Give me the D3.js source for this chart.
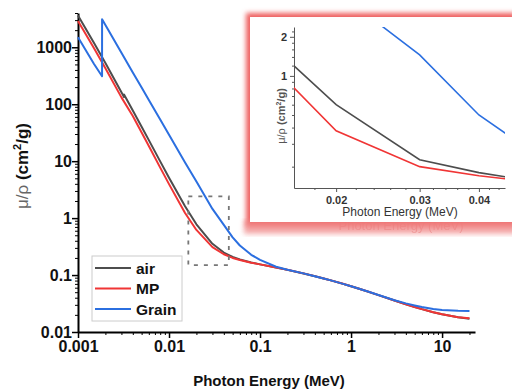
<!DOCTYPE html>
<html>
<head>
<meta charset="utf-8">
<script src="https://cdn.jsdelivr.net/npm/d3@7"></script>
<style>
  body { margin: 0; background: #fff; }
  svg { font-family: Arial, "Liberation Sans", sans-serif; }
</style>
</head>
<body>
<svg id="chart" width="512" height="390"></svg>
<script>
// mass attenuation coefficients (cm2/g) vs photon energy (MeV)
const airEnergy = [0.001, 0.0015, 0.002, 0.003, 0.0032028, 0.0032029, 0.004, 0.005, 0.006, 0.008, 0.01, 0.015, 0.02, 0.03, 0.04, 0.05, 0.06, 0.08, 0.1, 0.15, 0.2, 0.3, 0.4, 0.5, 0.6, 0.8, 1, 1.25, 1.5, 2, 3, 4, 5, 6, 8, 10, 15, 20];
const airValues = [3606, 1191, 527.9, 162.5, 134.0, 148.5, 77.88, 40.27, 23.41, 9.921, 5.12, 1.614, 0.7779, 0.3538, 0.2485, 0.208, 0.1875, 0.1662, 0.1541, 0.1356, 0.1233, 0.1067, 0.09549, 0.08712, 0.08055, 0.07074, 0.06358, 0.05687, 0.05175, 0.04447, 0.03581, 0.03079, 0.02751, 0.02522, 0.02225, 0.02045, 0.0181, 0.01705];

const mpEnergy = [0.001, 0.0015, 0.002, 0.003, 0.004, 0.005, 0.006, 0.008, 0.01, 0.015, 0.02, 0.03, 0.04, 0.05, 0.06, 0.08, 0.1, 0.15, 0.2, 0.3, 0.4, 0.5, 0.6, 0.8, 1, 1.25, 1.5, 2, 3, 4, 5, 6, 8, 10, 15, 20];
const mpValues = [2900, 960, 430, 132, 62, 32, 18.5, 7.7, 3.95, 1.23, 0.62, 0.31, 0.232, 0.2, 0.184, 0.165, 0.154, 0.1358, 0.1236, 0.107, 0.0957, 0.0873, 0.0807, 0.0709, 0.0637, 0.0569, 0.0518, 0.0445, 0.0358, 0.0308, 0.0275, 0.0252, 0.0222, 0.0205, 0.0182, 0.0174];

const grainEnergy = [0.001, 0.0015, 0.001838, 0.001839, 0.002, 0.003, 0.004, 0.005, 0.006, 0.008, 0.01, 0.015, 0.02, 0.03, 0.04, 0.05, 0.06, 0.08, 0.1, 0.15, 0.2, 0.3, 0.4, 0.5, 0.6, 0.8, 1, 1.25, 1.5, 2, 3, 4, 5, 6, 8, 10, 15, 20];
const grainValues = [1500, 510, 310, 3100, 2460, 800, 360, 196, 119, 54, 29, 9.5, 4.4, 1.45, 0.76, 0.46, 0.33, 0.227, 0.185, 0.14, 0.124, 0.107, 0.0955, 0.0871, 0.0806, 0.0708, 0.0636, 0.0569, 0.0518, 0.0446, 0.0362, 0.0318, 0.0292, 0.0274, 0.0253, 0.0243, 0.0235, 0.0233];

// zoomed inset
const insetEnergy = [0.015, 0.02, 0.03, 0.04, 0.05];
const insetAir = [1.58, 0.60, 0.226, 0.18, 0.158];
const insetMP = [1.10, 0.378, 0.20, 0.17, 0.155];
const insetGrain = [9.9, 4.5, 1.45, 0.50, 0.285];

const xTickValues = [0.001, 0.01, 0.1, 1, 10];
const yTickValues = [0.01, 0.1, 1, 10, 100, 1000];
const xTickLabels = ['0.001', '0.01', '0.1', '1', '10'];
const yTickLabels = ['0.01', '0.1', '1', '10', '100', '1000'];
const insetXTicks = [0.02, 0.03, 0.04];
const insetYTicks = [1, 2];

const seriesNames = ['air', 'MP', 'Grain'];
const colors = { air: '#4d4d4d', MP: '#f03535', Grain: '#2b6fe0' };

const svg = d3.select('#chart');

const x = d3.scaleLog().domain([0.001, 23]).range([78, 475]);
const y = d3.scaleLog().domain([0.01, 4000]).range([332, 13]);

function minorTicks(lo, hi) {
  var out = [];
  for (var d = lo; d < hi; d *= 10)
    for (var k = 2; k <= 9; k++) out.push(+(d * k).toPrecision(3));
  return out;
}

// minor ticks
svg.append('g')
  .attr('transform', 'translate(0,332)')
  .call(d3.axisBottom(x).tickValues(minorTicks(0.001, 10).concat([20])).tickSize(3).tickFormat(''))
  .call(g => g.select('.domain').remove())
  .selectAll('line').attr('stroke', '#000').attr('stroke-width', 1);
svg.append('g')
  .attr('transform', 'translate(78,0)')
  .call(d3.axisLeft(y).tickValues(minorTicks(0.01, 1000).concat([2000, 3000, 4000])).tickSize(3).tickFormat(''))
  .call(g => g.select('.domain').remove())
  .selectAll('line').attr('stroke', '#000').attr('stroke-width', 1);

// major axes
const xAxis = svg.append('g')
  .attr('transform', 'translate(0,332)')
  .call(d3.axisBottom(x).tickValues(xTickValues).tickSize(6).tickSizeOuter(0)
    .tickFormat((d, i) => xTickLabels[i]));
const yAxis = svg.append('g')
  .attr('transform', 'translate(78,0)')
  .call(d3.axisLeft(y).tickValues(yTickValues).tickSize(6).tickSizeOuter(0)
    .tickFormat((d, i) => yTickLabels[i]));

[xAxis, yAxis].forEach(function(a) {
  a.select('.domain').attr('stroke', '#000').attr('stroke-width', 2);
  a.selectAll('.tick line').attr('stroke', '#000').attr('stroke-width', 1.5);
  a.selectAll('.tick text')
    .attr('fill', '#111')
    .style('font-size', '16px')
    .style('font-weight', 'bold')
    .style('font-family', 'Arial, "Liberation Sans", sans-serif');
});
xAxis.selectAll('.tick text').attr('y', 9);
yAxis.selectAll('.tick text').attr('x', -6);

// lines
const line = d3.line().x(d => x(d[0])).y(d => y(d[1]));
const mainSeries = [
  { name: 'air', data: d3.zip(airEnergy, airValues) },
  { name: 'MP', data: d3.zip(mpEnergy, mpValues) },
  { name: 'Grain', data: d3.zip(grainEnergy, grainValues) }
];
svg.append('g').selectAll('path')
  .data(mainSeries)
  .join('path')
    .attr('d', d => line(d.data))
    .attr('fill', 'none')
    .attr('stroke', d => colors[d.name])
    .attr('stroke-width', 2)
    .attr('stroke-linejoin', 'round');

// dashed zoom box
svg.append('rect')
  .attr('x', x(0.0163)).attr('y', y(2.4))
  .attr('width', x(0.0454) - x(0.0163))
  .attr('height', y(0.15) - y(2.4))
  .attr('fill', 'none')
  .attr('stroke', '#777')
  .attr('stroke-width', 1.8)
  .attr('stroke-dasharray', '4,6');

// axis titles
svg.append('text')
  .attr('x', 269).attr('y', 386)
  .attr('text-anchor', 'middle')
  .style('font-size', '15px').style('font-weight', 'bold')
  .attr('fill', '#111')
  .text('Photon Energy (MeV)');

const yTitle = svg.append('text')
  .attr('transform', 'translate(28,166) rotate(-90)')
  .attr('text-anchor', 'middle')
  .style('font-size', '17px')
  .attr('fill', '#111');
yTitle.append('tspan').attr('fill', '#666').style('font-weight', 'normal').text('\u03bc/\u03c1 ');
yTitle.append('tspan').style('font-weight', 'bold').text('(cm');
yTitle.append('tspan').style('font-weight', 'bold').style('font-size', '11px').attr('dy', -7).text('2');
yTitle.append('tspan').style('font-weight', 'bold').attr('dy', 7).text('/g)');

// legend
const legend = svg.append('g');
legend.append('rect')
  .attr('x', 92).attr('y', 256).attr('width', 90).attr('height', 65)
  .attr('fill', '#fff').attr('stroke', '#ccc').attr('stroke-width', 1);
seriesNames.forEach(function(name, i) {
  var ly = 268 + i * 20.5;
  legend.append('line')
    .attr('x1', 95).attr('x2', 131).attr('y1', ly).attr('y2', ly)
    .attr('stroke', colors[name]).attr('stroke-width', 2);
  legend.append('text')
    .attr('x', 136).attr('y', ly + 5.5)
    .style('font-size', '15.5px').style('font-weight', 'bold')
    .attr('fill', '#111')
    .text(name);
});

// ---- inset ----
const defs = svg.append('defs');
defs.append('filter').attr('id', 'glow')
  .attr('x', '-10%').attr('y', '-10%').attr('width', '120%').attr('height', '130%')
  .append('feGaussianBlur').attr('stdDeviation', 2.5);
defs.append('clipPath').attr('id', 'insetClip')
  .append('rect').attr('x', 294).attr('y', 27).attr('width', 211).attr('height', 161);

const inset = svg.append('g');
// ghost of the label, seen under the panel
inset.append('text')
  .attr('x', 401).attr('y', 230)
  .attr('text-anchor', 'middle')
  .style('font-size', '13px')
  .attr('fill', '#e07070')
  .attr('opacity', 0.55)
  .text('Photon Energy (MeV)');
inset.append('rect')
  .attr('x', 246).attr('y', 13).attr('width', 270).attr('height', 214)
  .attr('fill', '#ee5f5f')
  .attr('filter', 'url(#glow)');
inset.append('rect')
  .attr('x', 244).attr('y', 220).attr('width', 272).attr('height', 14)
  .attr('fill', '#f08888').attr('opacity', 0.7)
  .attr('filter', 'url(#glow)');
inset.append('rect')
  .attr('x', 250).attr('y', 17).attr('width', 262).attr('height', 205)
  .attr('fill', '#fff');

const ix = d3.scaleLog().domain([0.0163, 0.0454]).range([294, 505]);
const iy = d3.scaleLog().domain([0.137, 2.38]).range([188, 27]);

const insetMinorX = d3.range(0.018, 0.0455, 0.002).filter(v => Math.abs(v * 100 - Math.round(v * 100)) > 1e-6);
const insetMinorY = [0.2, 0.3, 0.4, 0.5, 0.6, 0.7, 0.8, 0.9, 1.2, 1.4, 1.6, 1.8, 2.2];

inset.append('g')
  .attr('transform', 'translate(0,188)')
  .call(d3.axisBottom(ix).tickValues(insetMinorX).tickSize(2).tickFormat(''))
  .call(g => g.select('.domain').remove())
  .selectAll('line').attr('stroke', '#555');
inset.append('g')
  .attr('transform', 'translate(294,0)')
  .call(d3.axisLeft(iy).tickValues(insetMinorY).tickSize(2).tickFormat(''))
  .call(g => g.select('.domain').remove())
  .selectAll('line').attr('stroke', '#555');

const ixAxis = inset.append('g')
  .attr('transform', 'translate(0,188)')
  .call(d3.axisBottom(ix).tickValues(insetXTicks).tickSize(4).tickSizeOuter(0).tickFormat(d3.format('.2f')));
const iyAxis = inset.append('g')
  .attr('transform', 'translate(294,0)')
  .call(d3.axisLeft(iy).tickValues(insetYTicks).tickSize(4).tickSizeOuter(0).tickFormat(d3.format('d')));
[ixAxis, iyAxis].forEach(function(a) {
  a.select('.domain').attr('stroke', '#555').attr('stroke-width', 1);
  a.selectAll('.tick line').attr('stroke', '#555');
  a.selectAll('.tick text')
    .attr('fill', '#333')
    .style('font-size', '11px')
    .style('font-weight', 'bold')
    .style('font-family', 'Arial, "Liberation Sans", sans-serif');
});
ixAxis.selectAll('.tick text').attr('y', 8);

const iline = d3.line().x(d => ix(d[0])).y(d => iy(d[1]));
const insetSeries = [
  { name: 'air', values: insetAir },
  { name: 'MP', values: insetMP },
  { name: 'Grain', values: insetGrain }
];
inset.append('g').attr('clip-path', 'url(#insetClip)')
  .selectAll('path')
  .data(insetSeries)
  .join('path')
    .attr('d', d => iline(d3.zip(insetEnergy, d.values)))
    .attr('fill', 'none')
    .attr('stroke', d => colors[d.name])
    .attr('stroke-width', 1.6);

inset.append('text')
  .attr('x', 400).attr('y', 216)
  .attr('text-anchor', 'middle')
  .style('font-size', '12px')
  .attr('fill', '#333')
  .text('Photon Energy (MeV)');

const iyTitle = inset.append('text')
  .attr('transform', 'translate(285,116) rotate(-90)')
  .attr('text-anchor', 'middle')
  .style('font-size', '11px')
  .attr('fill', '#555');
iyTitle.append('tspan').text('\u03bc/\u03c1 ');
iyTitle.append('tspan').style('font-weight', 'bold').text('(cm');
iyTitle.append('tspan').style('font-weight', 'bold').style('font-size', '7px').attr('dy', -4).text('2');
iyTitle.append('tspan').style('font-weight', 'bold').attr('dy', 4).text('/g)');
</script>
</body>
</html>
